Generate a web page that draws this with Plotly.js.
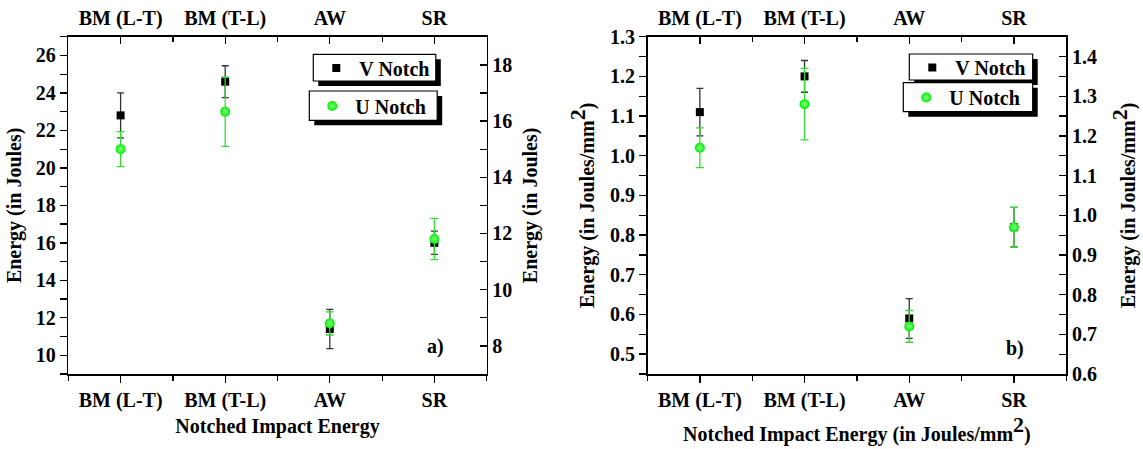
<!DOCTYPE html>
<html>
<head>
<meta charset="utf-8">
<script src="https://cdn.plot.ly/plotly-3.0.1.min.js"></script>
<style>
  html, body { margin: 0; padding: 0; background: #fff; }
  #chart { width: 1143px; height: 449px; }
</style>
</head>
<body>
<div id="chart"></div>
<script>
// ---------- data ----------
const categories = ['BM (L-T)', 'BM (T-L)', 'AW', 'SR'];

// panel a) energy in Joules
const vNotchJ    = [22.8, 24.6, 11.4, 16.0];
const vNotchJErr = [1.2, 0.85, 1.05, 0.62];
const uNotchJ    = [21.0, 23.0, 11.7, 16.2];
const uNotchJErr = [0.93, 1.85, 0.62, 1.1];

// panel b) energy in Joules/mm^2
const vNotchJmm    = [1.11, 1.20, 0.59, 0.82];
const vNotchJmmErr = [0.06, 0.04, 0.05, 0.05];
const uNotchJmm    = [1.02, 1.13, 0.57, 0.82];
const uNotchJmmErr = [0.05, 0.09, 0.04, 0.05];

const seriesNames = ['V Notch', 'U Notch'];
const panelLabels = ['a)', 'b)'];

// ---------- styling ----------
const W = 1143, H = 449;
const px = x => x / W;
const py = y => 1 - y / H;
const FONT = 'Liberation Serif, "Times New Roman", Times, serif';
const tickFont = {family: FONT, size: 20, color: '#000', weight: 'bold'};
const titleFont = {family: FONT, size: 20, color: '#000', weight: 'bold'};
const GREEN = '#00ee00';
const GREEN_ERR = '#33dd33';
const xIdx = categories.map((_, i) => i);
const SQ = 'mm<sup><span style="font-size:22px">2</span></sup>';

function vTrace(y, err, xa, ya, legend) {
  return {
    type: 'scatter', mode: 'markers', name: seriesNames[0],
    x: xIdx, y: y, xaxis: xa, yaxis: ya, legend: legend,
    marker: {symbol: 'square', size: 8, color: '#000'},
    error_y: {type: 'data', array: err, visible: true, color: '#333', thickness: 1.3, width: 3.5},
    cliponaxis: false
  };
}
function uTrace(y, err, xa, ya, legend) {
  return {
    type: 'scatter', mode: 'markers', name: seriesNames[1],
    x: xIdx, y: y, xaxis: xa, yaxis: ya, legend: legend,
    marker: {symbol: 'circle', size: 10, color: GREEN,
             gradient: {type: 'radial', color: '#8cff8c'}},
    error_y: {type: 'data', array: err, visible: true, color: GREEN_ERR, thickness: 1.3, width: 4},
    cliponaxis: false
  };
}
function ghost(xa, ya) {
  return {type: 'scatter', mode: 'markers', x: [0], y: [null],
          xaxis: xa, yaxis: ya, showlegend: false, hoverinfo: 'skip'};
}

const traces = [
  vTrace(vNotchJ, vNotchJErr, 'x', 'y', 'legend'),
  uTrace(uNotchJ, uNotchJErr, 'x', 'y', 'legend2'),
  ghost('x2', 'y2'),
  vTrace(vNotchJmm, vNotchJmmErr, 'x3', 'y3', 'legend3'),
  uTrace(uNotchJmm, uNotchJmmErr, 'x3', 'y3', 'legend4'),
  ghost('x4', 'y4')
];

const axCommon = {
  showline: true, linecolor: '#000', linewidth: 1.6, mirror: false,
  showgrid: false, zeroline: false, tickfont: tickFont,
  ticklen: 7, tickwidth: 1.4, tickcolor: '#000', fixedrange: true
};
const dom1 = [px(68.3), px(486.7)];
const dom2 = [px(647.5), px(1066.3)];
const domY = [py(374), py(36.7)];

function xAxis(domain, anchor, side, ticks, overlay, titleText, standoff) {
  const a = Object.assign({}, axCommon, {
    domain: domain, anchor: anchor, side: side, range: [-0.5, 3.5],
    tickmode: 'array', tickvals: xIdx, ticktext: categories,
    ticks: ticks,
    minor: {dtick: 0.5, tick0: 0.5, ticks: ticks, ticklen: 5, tickwidth: 1.2, tickcolor: '#000'}
  });
  if (overlay) { a.overlaying = overlay; a.ticklabelstandoff = 2; }
  if (titleText) a.title = {text: titleText, font: titleFont, standoff: standoff};
  return a;
}
function yAxis(range, dtick, minorDtick, anchor, side, ticks, overlay, titleText, standoff, fmt) {
  const a = Object.assign({}, axCommon, {
    domain: domY, anchor: anchor, side: side, range: range,
    dtick: dtick, tick0: 0, ticks: ticks, tickformat: fmt,
    minor: {dtick: minorDtick, ticks: ticks, ticklen: 7, tickwidth: 1.2, tickcolor: '#000'},
    title: {text: titleText, font: titleFont, standoff: standoff}
  });
  if (overlay) a.overlaying = overlay;
  return a;
}

const legendBase = {
  bgcolor: 'rgba(0,0,0,0)', borderwidth: 0,
  font: {family: FONT, size: 20, color: '#000', weight: 'bold'},
  xanchor: 'left', yanchor: 'middle', xref: 'paper', yref: 'paper',
  itemwidth: 36, tracegroupgap: 0
};

// legend frame with drop shadow (pixel box: x0,y0 top-left -> x1,y1 bottom-right)
function legendFrame(x0, y0, x1, y1) {
  return [
    {type: 'rect', xref: 'paper', yref: 'paper', layer: 'above',
     x0: px(x0 + 5), x1: px(x1 + 5), y0: py(y1 + 5), y1: py(y0 + 5),
     fillcolor: '#000', line: {width: 0}},
    {type: 'rect', xref: 'paper', yref: 'paper', layer: 'above',
     x0: px(x0), x1: px(x1), y0: py(y1), y1: py(y0),
     fillcolor: '#fff', line: {color: '#000', width: 1.2}}
  ];
}

const layout = {
  width: W, height: H,
  margin: {l: 0, r: 0, t: 0, b: 0},
  paper_bgcolor: '#fff', plot_bgcolor: '#fff',
  showlegend: true,
  font: {family: FONT, color: '#000'},
  xaxis: xAxis(dom1, 'y', 'bottom', 'outside', null, 'Notched Impact Energy', 8),
  xaxis2: xAxis(dom1, 'y', 'top', 'inside', 'x', null),
  yaxis: yAxis([9, 27], 2, 1, 'x', 'left', 'outside', null, 'Energy (in Joules)', 8, 'd'),
  yaxis2: yAxis([7, 19], 2, 1, 'x', 'right', 'inside', 'y', 'Energy (in Joules)', 12, 'd'),
  xaxis3: xAxis(dom2, 'y3', 'bottom', 'outside', null, 'Notched Impact Energy (in Joules/' + SQ + ')', 16),
  xaxis4: xAxis(dom2, 'y3', 'top', 'inside', 'x3', null),
  yaxis3: yAxis([0.45, 1.3], 0.1, 0.05, 'x3', 'left', 'outside', null, 'Energy (in Joules/' + SQ + ')', 10, '.1f'),
  yaxis4: yAxis([0.6, 1.45], 0.1, 0.05, 'x3', 'right', 'inside', 'y3', 'Energy (in Joules/' + SQ + ')', 25, '.1f'),
  legend:  Object.assign({}, legendBase, {x: px(313.3), y: py(68)}),
  legend2: Object.assign({}, legendBase, {x: px(309.3), y: py(106)}),
  legend3: Object.assign({}, legendBase, {x: px(909.3), y: py(67.5)}),
  legend4: Object.assign({}, legendBase, {x: px(903.3), y: py(97.5)}),
  shapes: [].concat(
    legendFrame(313.3, 54.3, 435.8, 81),
    legendFrame(309.3, 91, 437.2, 120.3),
    legendFrame(909.3, 54, 1032.7, 80),
    legendFrame(903.3, 82.7, 1032.7, 111.7)
  ),
  annotations: [
    {text: panelLabels[0], xref: 'paper', yref: 'paper', x: px(435.5), y: py(346),
     showarrow: false, font: titleFont, xanchor: 'center', yanchor: 'middle'},
    {text: panelLabels[1], xref: 'paper', yref: 'paper', x: px(1015), y: py(348),
     showarrow: false, font: titleFont, xanchor: 'center', yanchor: 'middle'}
  ]
};

Plotly.newPlot('chart', traces, layout, {staticPlot: true, displayModeBar: false});
</script>
</body>
</html>
